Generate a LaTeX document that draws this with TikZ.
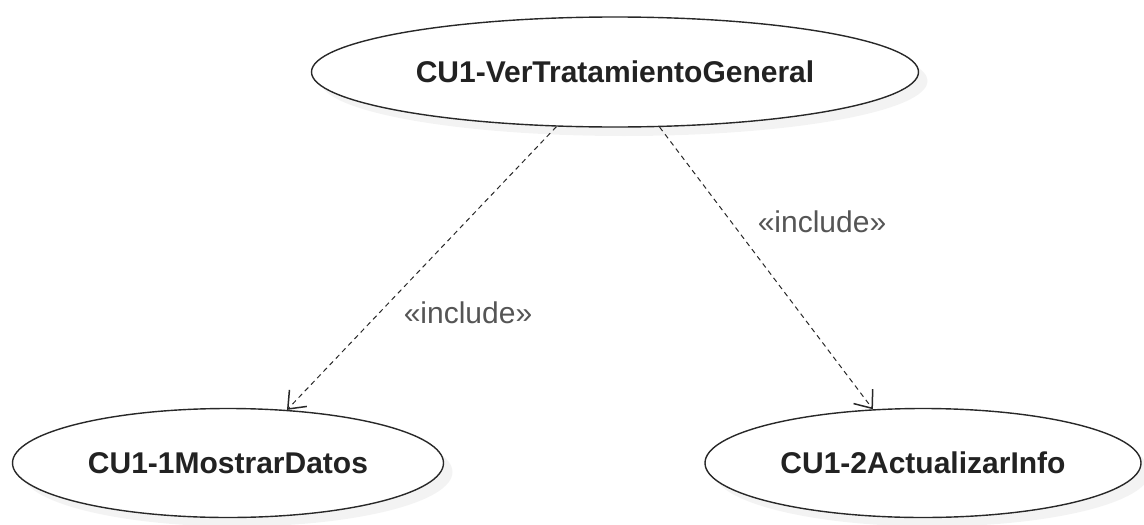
\documentclass[tikz,border=0pt]{standalone}
\usepackage{fontspec}
\setmainfont{Liberation Sans}
\usetikzlibrary{shapes.geometric,arrows.meta,shadows}
\definecolor{uctext}{RGB}{34,34,34}
\definecolor{ucline}{RGB}{40,40,40}
\definecolor{lbltext}{RGB}{85,85,85}

\begin{document}
\begin{tikzpicture}[x=1pt,y=-1pt,
  ucnode/.style={ellipse,draw=ucline,line width=1.4pt,fill=white,inner sep=0pt,
    font=\fontsize{30}{36}\selectfont\bfseries,text=uctext,
    drop shadow={shadow xshift=9pt,shadow yshift=-9pt,fill=black!9}},
  incl/.style={draw=ucline,line width=1pt,dash pattern=on 5pt off 4pt,
    -{Straight Barb[length=15pt,width=24pt,line width=1.5pt]}},
  lbl/.style={font=\fontsize{30}{36}\selectfont,text=lbltext,inner sep=0pt}]

  \useasboundingbox (0,0) rectangle (1144,525);

  % use cases
  \node[ucnode,minimum width=607pt,minimum height=110pt] (general) at (615,72)
    {CU1-VerTratamientoGeneral};
  \node[ucnode,minimum width=431pt,minimum height=109pt] (mostrar) at (228,463)
    {CU1-1MostrarDatos};
  \node[ucnode,minimum width=436pt,minimum height=109pt] (actualizar) at (923,463)
    {CU1-2ActualizarInfo};

  % include relations
  \draw[incl] (general.223) -- (mostrar.42);
  \draw[incl] (general.309) -- (actualizar.133);

  \node[lbl] (lblmostrar) at (468,313) {«include»};
  \node[lbl] (lblactualizar) at (822,222) {«include»};

\end{tikzpicture}
\end{document}
